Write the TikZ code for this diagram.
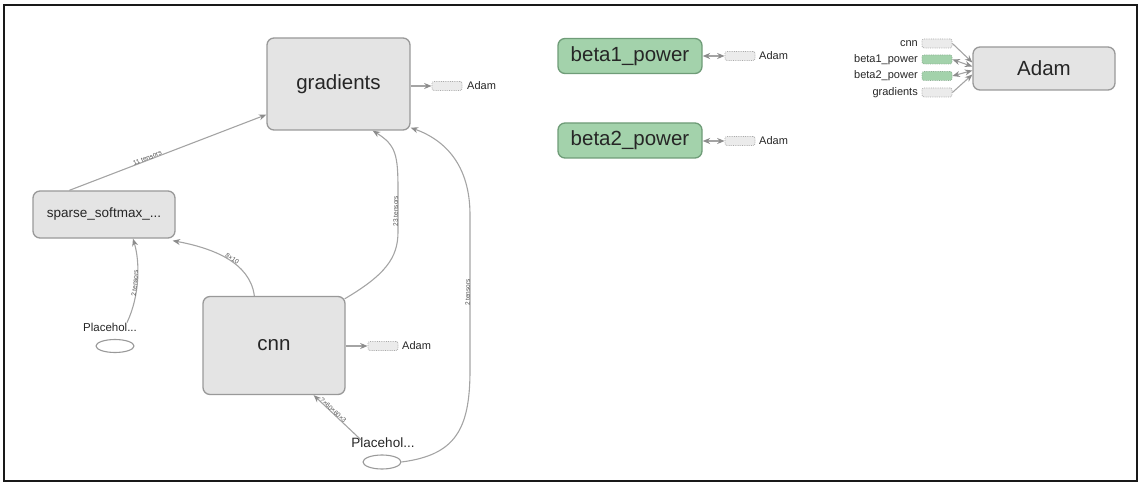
\documentclass[tikz,border=0pt]{standalone}
\usepackage{fontspec}
\setmainfont{Liberation Sans}
\usetikzlibrary{arrows.meta,shapes.geometric,calc}

\definecolor{opfill}{HTML}{E4E4E4}
\definecolor{opedge}{HTML}{999999}
\definecolor{varfill}{HTML}{A3D2AB}
\definecolor{varedge}{HTML}{6F9C78}
\definecolor{wire}{HTML}{A4A4A4}
\definecolor{wiretip}{HTML}{8C8C8C}
\definecolor{stubfill}{HTML}{EBEBEB}
\definecolor{stubedge}{HTML}{AAAAAA}
\definecolor{labelgray}{HTML}{505050}

\tikzset{
  opnode/.style={draw=opedge, fill=opfill, line width=1.3pt, rounded corners=7pt,
    inner sep=0pt, font=\fontsize{20.5}{22}\selectfont, text=black!85},
  varnode/.style={opnode, draw=varedge, fill=varfill},
  stub/.style={draw=stubedge, fill=stubfill, densely dotted, line width=0.8pt,
    rounded corners=2pt, minimum width=30pt, minimum height=9pt, inner sep=0pt},
  varstub/.style={stub, draw=varedge!80, fill=varfill},
  stubtext/.style={font=\fontsize{11}{12}\selectfont, text=black!85, inner sep=0pt},
  phnode/.style={draw=opedge, line width=1.1pt, ellipse, minimum width=38pt,
    minimum height=13pt, inner sep=0pt},
  wireline/.style={draw=wire, line width=1.1pt, -{Stealth[length=7.5pt,width=6pt,color=wiretip]}},
  dualwire/.style={draw=wire, line width=1.1pt,
    {Stealth[length=7.5pt,width=6pt,color=wiretip]}-{Stealth[length=7.5pt,width=6pt,color=wiretip]}},
  elabel/.style={font=\fontsize{6.5}{6.5}\selectfont, text=labelgray, sloped, inner sep=0.5pt},
}

\begin{document}
\begin{tikzpicture}[x=1pt,y=-1pt]
  \useasboundingbox (0,0) rectangle (1141,484);
  \draw[line width=2.4pt, black!90] (4,5) rectangle (1137,481);

  % main graph nodes
  \node[opnode, minimum width=143pt, minimum height=92pt] (grad) at (338.5,84) {gradients};
  \node[opnode, minimum width=142pt, minimum height=47pt,
        font=\fontsize{13.5}{15}\selectfont] (soft) at (104,214.5) {sparse\_softmax\_...};
  \node[opnode, minimum width=142pt, minimum height=98pt] (cnn) at (274,345.5) {cnn};

  % placeholders
  \node[stubtext, font=\fontsize{11.5}{12}\selectfont] (ph1t) at (110,327) {Placehol...};
  \node[phnode] (ph1) at (115,346) {};
  \node[stubtext, font=\fontsize{13.5}{14}\selectfont] (ph2t) at (383,443) {Placehol...};
  \node[phnode, minimum height=14pt] (ph2) at (382,462) {};

  % Adam stubs beside gradients and cnn
  \node[stub] (gstub) at (447,86) {};
  \node[stubtext, anchor=west] (gadam) at (467,86) {Adam};
  \node[stub] (cstub) at (383,346) {};
  \node[stubtext, anchor=west] (cadam) at (402,346) {Adam};

  % variables
  \node[varnode, minimum width=144pt, minimum height=35pt] (b1) at (630,56) {beta1\_power};
  \node[varnode, minimum width=144pt, minimum height=35pt] (b2) at (630,140.5) {beta2\_power};
  \node[stub] (b1stub) at (740,56) {};
  \node[stubtext, anchor=west] (b1adam) at (759,56) {Adam};
  \node[stub] (b2stub) at (740,141) {};
  \node[stubtext, anchor=west] (b2adam) at (759,141) {Adam};

  % Adam with its inputs
  \node[opnode, minimum width=142pt, minimum height=43pt] (adam) at (1044,68.5) {Adam};
  \node[stub] (in1) at (937,43.5) {};
  \node[varstub] (in2) at (937,59.5) {};
  \node[varstub] (in3) at (937,76) {};
  \node[stub] (in4) at (937,92.5) {};
  \node[stubtext, anchor=east] (in1t) at (918,43.5) {cnn};
  \node[stubtext, anchor=east] (in2t) at (918,59.5) {beta1\_power};
  \node[stubtext, anchor=east] (in3t) at (918,76) {beta2\_power};
  \node[stubtext, anchor=east] (in4t) at (918,92.5) {gradients};

  % connectors of the main graph
  \draw[wireline] ([xshift=37pt]soft.north west) -- ([yshift=16pt]grad.south west)
    node[elabel, pos=0.4, above=-1pt] (l1) {11 tensors};
  \draw[wireline] ([xshift=52pt]cnn.north west)
    .. controls (250,262) and (212,248) .. ([xshift=-3pt,yshift=-2pt]soft.south east)
    node[elabel, pos=0.45, above=-1pt] (l2) {8×10};
  \draw[wireline] ([xshift=-1pt,yshift=-3pt]cnn.north east)
    .. controls (385,275) and (398,258) .. (398,232)
    -- node[elabel, pos=0.5, above=-1pt] (l3) {23 tensors} (398,190)
    .. controls (398,155) and (396,145) .. ([xshift=-38pt]grad.south east);
  \draw[wireline] (ph2.east)
    .. controls (455,455) and (470,430) .. (470,370)
    -- node[elabel, pos=0.5, above=-1pt] (l4) {2 tensors} (470,215)
    .. controls (470,165) and (445,140) .. ([yshift=3pt]grad.south east);
  \draw[wireline] ([xshift=-22pt,yshift=-2pt]ph2t.north) -- ([xshift=-32pt]cnn.south east)
    node[elabel, pos=0.62, above=-1pt] (l5) {?×60×60×3};
  \draw[wireline] ([xshift=17pt]ph1t.north)
    .. controls (140,295) and (140,262) .. ([xshift=29pt]soft.south)
    node[elabel, pos=0.45, above=-1pt] (l6) {2 tensors};

  % Adam dependencies
  \draw[wireline] (grad.east |- gstub) -- (gstub.west);
  \draw[wireline] (cnn.east |- cstub) -- (cstub.west);
  \draw[dualwire] (b1.east) -- (b1stub.west);
  \draw[dualwire] ([yshift=-0.5pt]b2.east) -- (b2stub.west);

  % inputs of Adam
  \draw[wireline] (in1.east) -- ([yshift=6pt]adam.west);
  \draw[dualwire] (in2.east) -- ([yshift=2pt]adam.west);
  \draw[dualwire] (in3.east) -- ([yshift=-2pt]adam.west);
  \draw[wireline] (in4.east) -- ([yshift=-6pt]adam.west);
\end{tikzpicture}
\end{document}
